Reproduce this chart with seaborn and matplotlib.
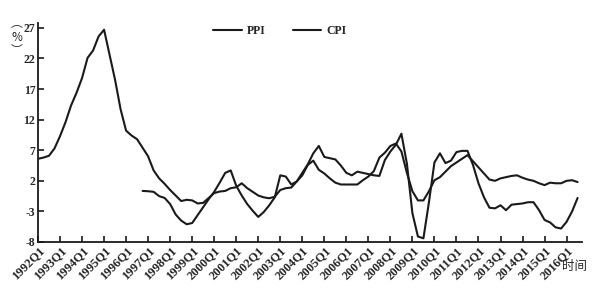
import numpy as np
import pandas as pd
import seaborn as sns
import matplotlib.pyplot as plt

# quarterly index: 1992Q1 ... 2016Q3
quarters = [f"{y}Q{q}" for y in range(1992, 2017) for q in range(1, 5)][:99]
tick_labels = [f"{y}Q1" for y in range(1992, 2017)]
y_ticks = [-8, -3, 2, 7, 12, 17, 22, 27]

cpi = [5.6, 5.8, 6.1, 7.3, 9.3, 11.6, 14.3, 16.4, 18.8, 22.1,
       23.3, 25.6, 26.7, 22.6, 18.5, 13.7, 10.2, 9.4, 8.8, 7.4,
       6.0, 3.7, 2.4, 1.5, 0.5, -0.4, -1.3, -1.1, -1.2, -1.7,
       -1.6, -0.8, 0.0, 0.25, 0.35, 0.8, 0.95, 1.6, 0.8, 0.2,
       -0.4, -0.7, -0.85, -0.6, 0.5, 0.8, 0.9, 1.9, 2.9, 4.6,
       5.3, 3.8, 3.2, 2.4, 1.7, 1.4, 1.4, 1.4, 1.4, 2.1,
       2.7, 3.6, 5.8, 6.6, 7.7, 8.1, 6.8, 3.3, 0.3, -1.2,
       -1.2, 0.3, 2.1, 2.6, 3.5, 4.4, 5.0, 5.6, 6.2, 5.2,
       4.2, 3.2, 2.2, 2.0, 2.4, 2.6, 2.8, 2.9, 2.5, 2.2,
       2.0, 1.6, 1.3, 1.7, 1.6, 1.6, 2.0, 2.1, 1.8]

ppi = [np.nan] * 19 + [
       0.35, 0.3, 0.2, -0.5, -0.8, -1.8, -3.5, -4.5, -5.1, -4.9,
       -3.6, -2.3, -1.0, 0.2, 1.7, 3.3, 3.7, 1.2, -0.4, -1.8,
       -2.9, -3.9, -3.1, -2.0, -0.7, 2.9, 2.7, 1.4, 1.9, 3.3,
       4.7, 6.5, 7.7, 5.9, 5.7, 5.5, 4.5, 3.3, 2.9, 3.5,
       3.3, 3.1, 2.9, 2.8, 5.4, 6.8, 7.9, 9.7, 4.8, -3.3,
       -7.1, -7.4, -1.5, 5.0, 6.5, 4.9, 5.3, 6.7, 6.9, 6.9,
       4.6, 1.6, -0.7, -2.4, -2.5, -2.0, -2.8, -1.9, -1.8, -1.7,
       -1.5, -1.5, -2.8, -4.4, -4.8, -5.6, -5.8, -4.7, -3.0, -0.8]

sns.set_theme(style="ticks")
plt.rcParams['font.family'] = ['Liberation Serif', 'Noto Sans CJK SC', 'DejaVu Sans']

df = pd.DataFrame({'t': np.arange(len(quarters)), 'PPI': ppi, 'CPI': cpi})
long = df.melt('t', var_name='series', value_name='value').dropna()

fig = plt.figure(figsize=(6, 2.89), dpi=100)
ax = fig.add_axes([38/600, 1-242/289, 544/600, 219/289])

sns.lineplot(data=long, x='t', y='value', hue='series', hue_order=['PPI', 'CPI'],
             palette={'PPI': '#1a1a1a', 'CPI': '#1a1a1a'}, linewidth=1.5,
             errorbar=None, ax=ax)

ax.set_xlim(0, 98.8)
ax.set_ylim(-8, 27.8)
ax.set_yticks(y_ticks)
ax.set_yticklabels([str(v) for v in y_ticks], fontsize=8.5, fontweight='bold')
ax.set_xticks(np.arange(0, len(tick_labels) * 4, 4))
ax.set_xticklabels(tick_labels, rotation=45, ha='right', va='top',
                   rotation_mode='anchor', fontsize=9, fontweight='bold')
ax.set_xlabel('')
ax.set_ylabel('')
for s in ['top', 'right']:
    ax.spines[s].set_visible(False)
for s in ['left', 'bottom']:
    ax.spines[s].set_linewidth(1.3)
    ax.spines[s].set_color('#1a1a1a')
ax.tick_params(axis='both', direction='in', length=4, width=1.2, color='#1a1a1a', pad=2)

ax.legend(ncol=2, frameon=False, loc='center', bbox_to_anchor=(0.445, 0.963),
          handlelength=2.4, columnspacing=2.3, handletextpad=0.45,
          prop={'size': 8.5, 'weight': 'bold'})

ax.text(0.987, -0.11, '时间', transform=ax.transAxes, ha='center', va='center',
        fontsize=9, family=['Noto Sans CJK SC', 'DejaVu Sans'])
ax.text(-0.039, 0.935, '︵\n%\n︶', transform=ax.transAxes, ha='center', va='center',
        fontsize=8.5, linespacing=1.05, family=['Noto Sans CJK SC', 'DejaVu Sans'])

fig.savefig('out.png', dpi=100)
